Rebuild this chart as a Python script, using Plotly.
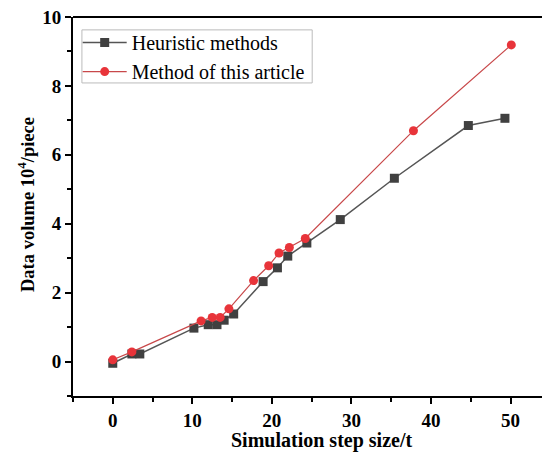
import plotly.graph_objects as go

heur_x = [0, 2.4, 3.4, 10.2, 12.0, 13.1, 14.0, 15.2, 18.9, 20.7, 22.0, 24.4, 28.6, 35.4, 44.7, 49.3]
heur_y = [-0.05, 0.22, 0.22, 0.97, 1.07, 1.07, 1.2, 1.38, 2.32, 2.72, 3.06, 3.44, 4.12, 5.32, 6.85, 7.06]

meth_x = [0, 2.4, 11.1, 12.5, 13.5, 14.6, 17.7, 19.6, 20.9, 22.2, 24.2, 37.8, 50.1]
meth_y = [0.05, 0.28, 1.18, 1.28, 1.28, 1.53, 2.35, 2.78, 3.15, 3.31, 3.57, 6.7, 9.19]

x_ticks = [0, 10, 20, 30, 40, 50]
y_ticks = [0, 2, 4, 6, 8, 10]

x_title = "Simulation step size/t"
y_title = "Data volume 10<sup>4</sup>/piece"

font_serif = "Liberation Serif, Times New Roman, serif"

fig = go.Figure()
fig.add_trace(go.Scatter(
    x=heur_x, y=heur_y, mode="lines+markers", name="Heuristic methods",
    line=dict(color="#555555", width=1.5),
    marker=dict(symbol="square", size=9, color="#404040"),
))
fig.add_trace(go.Scatter(
    x=meth_x, y=meth_y, mode="lines+markers", name="Method of this article",
    line=dict(color="#c8484a", width=1.2),
    marker=dict(symbol="circle", size=9, color="#e8343a"),
))

fig.update_layout(
    width=542, height=452,
    margin=dict(l=73, r=0, t=17, b=56, autoexpand=False),
    paper_bgcolor="white", plot_bgcolor="white",
    font=dict(family=font_serif, color="black"),
    showlegend=True,
    legend=dict(
        x=0.01, y=0.984, xanchor="left", yanchor="top",
        bgcolor="rgba(0,0,0,0)", borderwidth=0,
        font=dict(size=20, family=font_serif, color="black"),
        tracegroupgap=0, itemwidth=44,
    ),
    xaxis=dict(
        range=[-5, 53.96], tickvals=x_ticks, ticktext=[str(v) for v in x_ticks],
        automargin=False,
        showgrid=False, zeroline=False, showline=True, linecolor="black", linewidth=2,
        ticks="outside", ticklen=6, tickwidth=1.5, tickcolor="black",
        minor=dict(tickvals=[-5, 5, 15, 25, 35, 45], ticks="outside", ticklen=4, tickwidth=1.5, tickcolor="black"),
        tickfont=dict(size=19, family=font_serif, color="black", weight="bold"),
    ),
    yaxis=dict(
        range=[-1, 10], tickvals=y_ticks, ticktext=[str(v) for v in y_ticks],
        automargin=False,
        showgrid=False, zeroline=False, showline=True, linecolor="black", linewidth=2,
        ticks="outside", ticklen=6, tickwidth=1.5, tickcolor="black",
        minor=dict(tickvals=[-1, 1, 3, 5, 7, 9], ticks="outside", ticklen=4, tickwidth=1.5, tickcolor="black"),
        tickfont=dict(size=19, family=font_serif, color="black", weight="bold"),
    ),
    shapes=[
        dict(type="line", xref="paper", yref="paper", x0=0, x1=1, y0=1, y1=1,
             line=dict(color="black", width=2)),
        dict(type="rect", xref="paper", yref="paper", x0=0.019, x1=0.51, y0=0.826, y1=0.966,
             line=dict(color="#bbbbbb", width=1), fillcolor="rgba(0,0,0,0)", layer="below"),
    ],
    annotations=[
        dict(text="<b>" + x_title + "</b>", xref="paper", yref="paper", x=0.529, y=-0.1187,
             xanchor="center", yanchor="middle", showarrow=False,
             font=dict(size=20, family=font_serif, color="black")),
        dict(text="<b>" + y_title + "</b>", xref="paper", yref="paper", x=-0.1002, y=0.504,
             xanchor="center", yanchor="middle", showarrow=False, textangle=-90,
             font=dict(size=18.5, family=font_serif, color="black")),
    ],
)

fig.write_html("out.html", config={"displayModeBar": False},
               post_script="document.body.style.margin='0';document.body.style.padding='0';document.body.style.overflow='hidden';")
